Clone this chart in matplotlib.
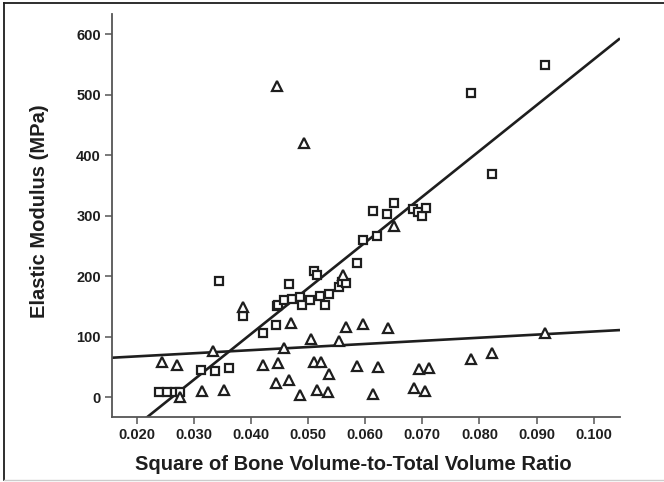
import numpy as np
import matplotlib
matplotlib.use("Agg")
import matplotlib.pyplot as plt
from matplotlib.lines import Line2D

plt.rcParams['font.family'] = ['Liberation Sans', 'DejaVu Sans']

# squares group
sq_x = [0.02390, 0.02530, 0.02671, 0.02758, 0.03120, 0.03371, 0.03616, 0.03441,
        0.03866, 0.04206, 0.04433, 0.04451, 0.04479, 0.04584, 0.04666, 0.04710,
        0.04859, 0.04899, 0.05039, 0.05108, 0.05165, 0.05209, 0.05302, 0.05361,
        0.05542, 0.05589, 0.05664, 0.05862, 0.05962, 0.06132, 0.06212, 0.06387,
        0.06499, 0.06843, 0.06920, 0.06995, 0.07065, 0.07847, 0.08226, 0.09143]
sq_y = [9, 9, 9, 9, 45, 44, 48, 192,
        134, 106, 120, 151, 153, 161, 187, 162,
        166, 153, 161, 208, 202, 168, 153, 171,
        183, 191, 189, 222, 260, 308, 267, 303,
        322, 311, 306, 299, 313, 503, 369, 549]

# triangles group
tri_x = [0.02438, 0.02711, 0.02767, 0.03148, 0.03336, 0.03523, 0.03866, 0.04206,
         0.04435, 0.04461, 0.04479, 0.04579, 0.04661, 0.04701, 0.04850, 0.04924,
         0.05046, 0.05108, 0.05157, 0.05227, 0.05344, 0.05372, 0.05536, 0.05606,
         0.05664, 0.05857, 0.05967, 0.06132, 0.06225, 0.06400, 0.06499, 0.06855,
         0.06937, 0.07053, 0.07121, 0.07853, 0.08220, 0.09148]
tri_y = [59, 53, 1, 11, 77, 12, 149, 53,
         23, 515, 57, 82, 28, 123, 4, 421,
         96, 59, 12, 58, 9, 39, 93, 202,
         117, 52, 121, 5, 50, 115, 283, 15,
         46, 10, 49, 64, 73, 106]

# fitted lines (slope, intercept)
fit_sq = (7564.0, -197.9)
fit_tri = (514.0, 57.4)

x_ticks = [0.020, 0.030, 0.040, 0.050, 0.060, 0.070, 0.080, 0.090, 0.100]
y_ticks = [0, 100, 200, 300, 400, 500, 600]

ink = '#1e1e1e'

fig = plt.figure(figsize=(6.64, 4.82), dpi=100)
ax = fig.add_axes([112 / 664, 1 - 416.5 / 482, 508 / 664, 402.5 / 482])

xlim = (0.01568, 0.1046)
ylim = (-31.7, 633.6)

xx = np.array(xlim)
for m, b in (fit_sq, fit_tri):
    ax.plot(xx, m * xx + b, color=ink, lw=1.9, zorder=2, solid_capstyle='butt')

ax.plot(sq_x, sq_y, ls='none', marker='s', ms=6.3, mfc='white', mec=ink, mew=1.6, zorder=3)
ax.plot(tri_x, tri_y, ls='none', marker='^', ms=6.8, mfc='white', mec=ink, mew=1.6, zorder=3)

ax.set_xlim(xlim)
ax.set_ylim(ylim)
ax.set_xticks(x_ticks)
ax.set_xticklabels([f'{v:.3f}' for v in x_ticks])
ax.set_yticks(y_ticks)
ax.set_yticklabels([str(v) for v in y_ticks])

for s in ('top', 'right'):
    ax.spines[s].set_visible(False)
for s in ('left', 'bottom'):
    ax.spines[s].set_color('#555555')
    ax.spines[s].set_linewidth(1.3)
ax.tick_params(axis='both', direction='out', length=5, width=1.1, color='#555555',
               labelsize=10.5, labelcolor=ink, pad=3)
for lab in ax.get_xticklabels() + ax.get_yticklabels():
    lab.set_fontweight('bold')

fig.text(353 / 664, 1 - 465 / 482, 'Square of Bone Volume-to-Total Volume Ratio',
         ha='center', va='center', fontsize=14.5, fontweight='bold', color=ink)
fig.text(40 / 664, 1 - 211 / 482, 'Elastic Modulus (MPa)', rotation=90,
         ha='center', va='center', fontsize=14.5, fontweight='bold', color=ink)

# figure border
fig.add_artist(Line2D([4 / 664, 4 / 664], [0.004, 1 - 3 / 482], transform=fig.transFigure,
                      color=ink, lw=1.3))
fig.add_artist(Line2D([4 / 664, 1.0], [1 - 3 / 482, 1 - 3 / 482], transform=fig.transFigure,
                      color=ink, lw=1.3))
fig.add_artist(Line2D([4 / 664, 1.0], [0.004, 0.004], transform=fig.transFigure,
                      color='#cccccc', lw=1.0))

fig.savefig('out.png', dpi=100)
